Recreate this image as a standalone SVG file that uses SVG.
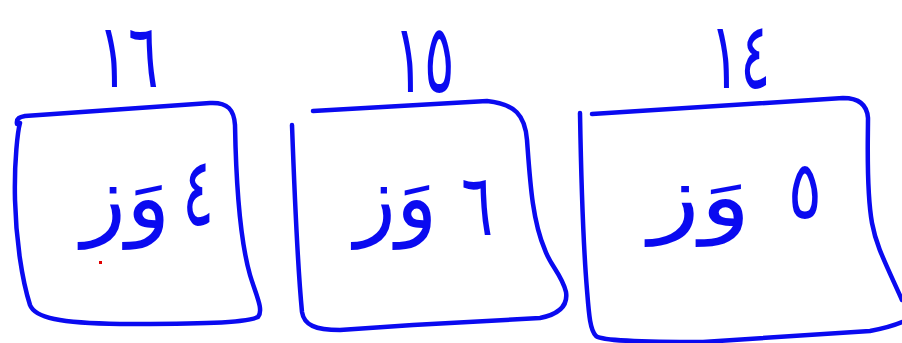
<svg xmlns="http://www.w3.org/2000/svg" width="902" height="343" viewBox="0 0 902 343">
<style>
.ink{fill:none;stroke:#0a0af0;stroke-width:4.5;stroke-linecap:round;stroke-linejoin:round}
.t{font-family:"DejaVu Sans",sans-serif;fill:#0a0af0;text-anchor:middle}
.top{font-size:60px}
.num{font-size:60px}
.word{font-size:66px}
</style>
<rect width="902" height="343" fill="#ffffff"/>
<g id="label16"><text class="t top" transform="translate(128,87) scale(0.95,1.5)">١٦</text></g>
<g id="label15"><text class="t top" transform="translate(424,92) scale(0.95,1.6)">١٥</text></g>
<g id="label14"><text class="t top" transform="translate(740,88) scale(0.95,1.55)">١٤</text></g>
<g id="box1">
<path class="ink" d="M17,124 C16,118 20,117 25,116 L210,103 C228,102 234,110 235,125 C236,180 240,240 250,275 C256,295 264,310 258,317 C245,323 200,324 120,324 C60,323 35,318 30,305 C22,280 16,240 15,200 C14,160 18,130 20,123"/>
<text class="t num" transform="translate(198,225) scale(1,1.6)">٤</text>
<text class="t word" transform="translate(126,228) scale(1.4,1.35)">وَز</text>
<rect x="99" y="261" width="3" height="3" fill="#e00000"/>
</g>
<g id="box2">
<path class="ink" d="M292,125 C294,180 297,260 302,312 C304,325 315,330 340,330 L413,325 L540,318 C560,314 568,305 566,292 C562,275 550,265 545,250 C532,220 530,180 527,140 C525,115 515,104 487,101 L313,111"/>
<text class="t num" transform="translate(477,235) scale(1,1.45)">٦</text>
<text class="t word" transform="translate(396,228) scale(1.3,1.35)">وَز</text>
</g>
<g id="box3">
<path class="ink" d="M580,113 C581,170 582,230 587,290 C589,315 590,330 596,336 C602,341 640,342 703,342 L870,331 C885,328 895,325 902,322"/>
<path class="ink" d="M592,114 L843,98 C858,98 867,104 868,118 C868,140 866,190 872,223 C876,245 884,260 902,300"/>
<text class="t num" transform="translate(805,218) scale(1.05,1.35)">٥</text>
<text class="t word" transform="translate(700,226) scale(1.6,1.3)">وَز</text>
</g>
</svg>
